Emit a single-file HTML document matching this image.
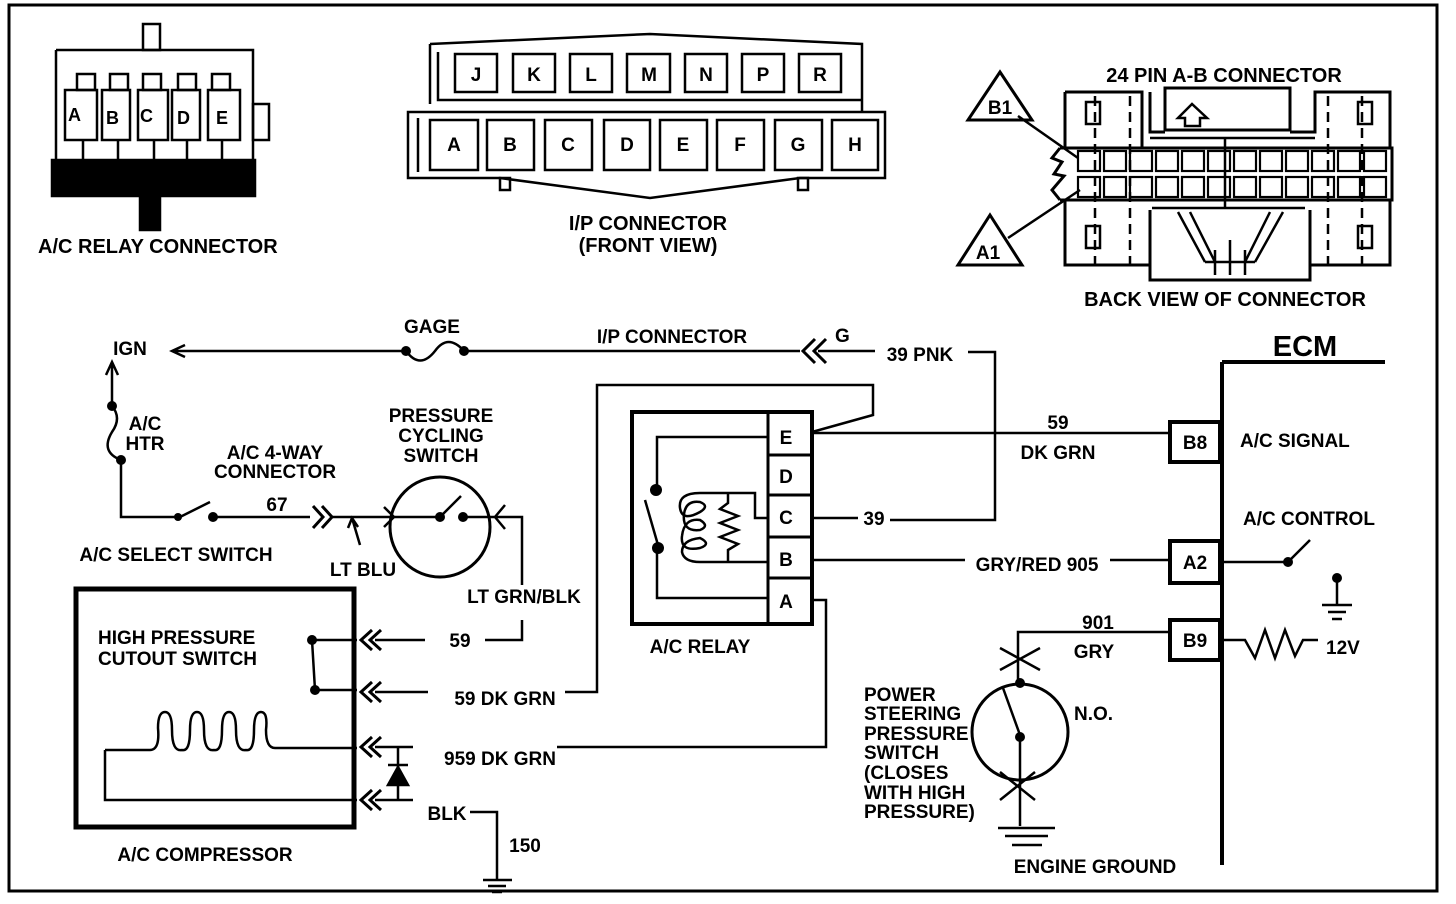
<!DOCTYPE html>
<html><head><meta charset="utf-8"><style>
html,body{margin:0;padding:0;background:#fff}
svg{display:block}
text{font-family:"Liberation Sans",sans-serif;font-weight:bold;fill:#000}
</style></head><body>
<svg width="1456" height="904" viewBox="0 0 1456 904" xmlns="http://www.w3.org/2000/svg">
<g fill="none" stroke="#000" stroke-width="2.5">
<rect x="9" y="5" width="1428" height="886" stroke-width="3"/>

<!-- A/C relay connector -->
<rect x="143" y="24" width="17" height="26"/>
<path d="M56 50 H253 V160 M56 50 V160"/>
<rect x="253" y="104" width="16" height="36"/>
<g stroke-width="2.5">
<rect x="77" y="74" width="18" height="16"/><rect x="110" y="74" width="18" height="16"/><rect x="143" y="74" width="18" height="16"/><rect x="178" y="74" width="18" height="16"/><rect x="212" y="74" width="18" height="16"/>
<rect x="65" y="90" width="32" height="50"/><rect x="102" y="90" width="28" height="50"/><rect x="138" y="90" width="30" height="50"/><rect x="172" y="90" width="28" height="50"/><rect x="208" y="90" width="32" height="50"/>
<path d="M83 140 V160 M118 140 V160 M154 140 V160 M187 140 V160 M222 140 V160"/>
</g>
<rect x="52" y="160" width="203" height="36" fill="#000"/>
<rect x="140" y="196" width="20" height="34" fill="#000"/>

<!-- I/P connector -->
<path d="M430 44 L650 34 L862 44 L862 112"/>
<path d="M430 44 V104 M438 52 V100 H862"/>
<path d="M408 112 H885 V178 L800 178 L650 198 L500 178 H408 Z"/>
<path d="M418 118 V172"/>
<rect x="500" y="178" width="10" height="12"/><rect x="798" y="178" width="10" height="12"/>
<g stroke-width="2.5">
<rect x="455" y="54" width="42" height="38"/><rect x="513" y="54" width="42" height="38"/><rect x="570" y="54" width="42" height="38"/><rect x="627" y="54" width="43" height="38"/><rect x="685" y="54" width="42" height="38"/><rect x="742" y="54" width="42" height="38"/><rect x="799" y="54" width="42" height="38"/>
<rect x="430" y="120" width="48" height="50"/><rect x="487" y="120" width="47" height="50"/><rect x="545" y="120" width="47" height="50"/><rect x="604" y="120" width="46" height="50"/><rect x="660" y="120" width="47" height="50"/><rect x="717" y="120" width="47" height="50"/><rect x="775" y="120" width="47" height="50"/><rect x="832" y="120" width="46" height="50"/>
</g>

<!-- 24 pin connector -->
<g stroke-width="3">
<path d="M1065 92 H1142 V148 M1065 92 V148"/>
<path d="M1165 88 H1290 V130 H1165 Z"/>
<path d="M1150 92 V132 H1165 M1290 132 H1315 V92 H1390 V148"/>
<path d="M1065 200 V265 H1150 V280 H1310 V265 H1390 V200"/>
<path d="M1150 210 V280 M1310 210 V265"/>
<path d="M1060 148 H1392 V200 H1060"/>
<path d="M1060 148 L1052 158 L1062 162 L1054 174 L1064 176 L1052 190 L1060 200"/>
</g>
<path d="M1150 138 H1315 M1152 208 H1305 M1225 138 V208"/>
<path d="M1095 96 V270 M1130 96 V270 M1328 96 V270 M1362 96 V270" stroke-dasharray="10 6"/>
<rect x="1086" y="102" width="14" height="22"/><rect x="1358" y="102" width="14" height="22"/>
<rect x="1086" y="226" width="14" height="22"/><rect x="1358" y="226" width="14" height="22"/>
<path d="M1178 118 L1192 104 L1207 118 H1200 V126 H1185 V118 Z"/>
<path d="M1178 212 L1205 262 M1190 212 L1215 262 M1270 212 L1245 262 M1283 212 L1255 262 M1205 262 H1255 M1215 250 V275 M1245 250 V275 M1230 240 V275"/>
<g stroke-width="2.2">
<rect x="1078" y="151" width="22" height="20"/><rect x="1104" y="151" width="22" height="20"/><rect x="1130" y="151" width="22" height="20"/><rect x="1156" y="151" width="22" height="20"/><rect x="1182" y="151" width="22" height="20"/><rect x="1208" y="151" width="22" height="20"/><rect x="1234" y="151" width="22" height="20"/><rect x="1260" y="151" width="22" height="20"/><rect x="1286" y="151" width="22" height="20"/><rect x="1312" y="151" width="22" height="20"/><rect x="1338" y="151" width="22" height="20"/><rect x="1364" y="151" width="22" height="20"/>
<rect x="1078" y="177" width="22" height="20"/><rect x="1104" y="177" width="22" height="20"/><rect x="1130" y="177" width="22" height="20"/><rect x="1156" y="177" width="22" height="20"/><rect x="1182" y="177" width="22" height="20"/><rect x="1208" y="177" width="22" height="20"/><rect x="1234" y="177" width="22" height="20"/><rect x="1260" y="177" width="22" height="20"/><rect x="1286" y="177" width="22" height="20"/><rect x="1312" y="177" width="22" height="20"/><rect x="1338" y="177" width="22" height="20"/><rect x="1364" y="177" width="22" height="20"/>
</g>
<path d="M1000 72 L1032 120 H968 Z" stroke-width="3"/>
<path d="M990 215 L1022 265 H958 Z" stroke-width="3"/>
<path d="M1018 116 L1078 158 M1008 238 L1080 190"/>

<!-- IGN / gage line -->
<path d="M405 351 H175 M185 345 L172 351 L185 357"/>
<path d="M406 351 Q420 370 435 351 Q448 333 464 351"/>
<path d="M464 351 H800"/>
<path d="M815 339 L803 351 L815 363 M826 339 L814 351 L826 363" stroke-width="3"/>
<path d="M818 351 H875 M968 352 H995 V520 H890 M812 518 H858"/>

<!-- IGN vertical -->
<path d="M112 406 V362 M106 375 L112 362 L118 375"/>
<path d="M112 406 Q122 418 112 432 Q100 452 121 460"/>
<path d="M121 460 V517 H178 M180 517 L210 502 M213 517 H310"/>
<path d="M313 506 L323 517 L313 528 M322 506 L332 517 L322 528" stroke-width="3"/>
<path d="M330 517 H392 M360 545 L352 518 M348 528 L352 518 L358 527"/>
<path d="M384 507 L394 517 L384 527"/>
<circle cx="440" cy="527" r="50" stroke-width="3"/>
<path d="M392 517 H440 M463 517 H522 V585 M443 514 L461 496"/>
<path d="M505 505 L495 517 L505 529"/>
<path d="M485 640 H522 V620"/>

<!-- compressor -->
<rect x="76" y="589" width="278" height="238" stroke-width="5"/>
<path d="M312 640 H357 M312 640 L315 690 H357"/>
<path d="M105 750 H150 Q160 750 158 728 Q158 712 165 712 Q172 712 172 730 Q172 752 182 750 Q190 752 190 730 Q190 712 197 712 Q204 712 204 730 Q204 752 214 750 Q222 752 222 730 Q222 712 229 712 Q236 712 236 730 Q236 752 246 750 Q254 752 254 730 Q254 712 261 712 Q268 712 266 730 Q266 748 275 748 H357"/>
<path d="M105 750 V800 H357"/>
<g stroke-width="3">
<path d="M372 630 L361 640 L372 650 M381 630 L370 640 L381 650"/>
<path d="M372 682 L361 692 L372 702 M381 682 L370 692 L381 702"/>
<path d="M372 737 L361 747 L372 757 M381 737 L370 747 L381 757"/>
<path d="M372 790 L361 800 L372 810 M381 790 L370 800 L381 810"/>
</g>
<path d="M375 640 H425 M375 692 H428 M565 692 H597 V385 H873 V415 L812 432"/>
<path d="M375 747 H413 M557 747 H826 V600 H812 M375 800 H413 M398 747 V800"/>
<path d="M388 765 H408 M388 785 L398 767 L408 785 Z" fill="#000"/>
<path d="M470 812 H497 V880"/>
<path d="M483 880 H512 M488 886 H506 M492 892 H502"/>

<!-- relay -->
<rect x="632" y="412" width="180" height="212" stroke-width="4"/>
<path d="M768 412 V624 M768 455 H812 M768 495 H812 M768 537 H812 M768 578 H812" stroke-width="3"/>
<path d="M768 437 H657 V490 M657 547 V598 H768 M645 500 L658 545"/>
<path d="M700 493 H755 V518 H768 M700 493 Q678 493 680 508 Q682 522 700 512 Q710 506 700 502 Q686 500 684 514 M684 514 Q682 532 700 530 Q710 526 700 520 Q684 518 682 536 M682 536 Q680 552 700 548 Q712 544 700 538 Q682 540 682 552 Q684 562 700 562 H768"/>
<path d="M728 493 V503 L720 509 L738 516 L720 523 L738 530 L720 537 L738 544 L728 550 V562"/>
<path d="M812 433 H1170 M812 560 H965 M1110 560 H1170"/>

<!-- ECM -->
<path d="M1222 362 V865 M1222 362 H1385" stroke-width="4"/>
<rect x="1170" y="422" width="50" height="40" stroke-width="4"/>
<rect x="1170" y="541" width="50" height="42" stroke-width="4"/>
<rect x="1170" y="620" width="50" height="40" stroke-width="4"/>
<path d="M1222 562 H1286 M1290 560 L1310 540"/>
<path d="M1337 580 V605 M1322 605 H1352 M1328 612 H1346 M1332 619 H1342"/>
<path d="M1222 640 H1245 L1255 658 L1265 630 L1275 658 L1285 630 L1295 656 L1303 640 H1318"/>
<path d="M1170 632 H1018 V680"/>
<circle cx="1020" cy="732" r="48" stroke-width="3"/>
<path d="M1000 670 L1040 648 M1000 648 L1040 670 M1000 800 L1035 772 M1000 772 L1035 800"/>
<path d="M1003 688 L1020 735 M1020 735 V826 M998 828 H1055 M1005 836 H1048 M1012 845 H1042"/>
</g>
<g fill="#000">
<circle cx="406" cy="351" r="5"/><circle cx="464" cy="351" r="5"/>
<circle cx="112" cy="406" r="5"/><circle cx="121" cy="460" r="5"/>
<circle cx="178" cy="517" r="4"/><circle cx="213" cy="517" r="5"/>
<circle cx="440" cy="517" r="5"/><circle cx="463" cy="517" r="5"/>
<circle cx="312" cy="640" r="5"/><circle cx="315" cy="690" r="5"/>
<circle cx="656" cy="490" r="6"/><circle cx="658" cy="548" r="6"/>
<circle cx="1288" cy="562" r="5"/><circle cx="1337" cy="578" r="5"/>
<circle cx="1020" cy="683" r="5"/><circle cx="1020" cy="737" r="5"/>
</g>

<g font-size="19">
<text x="68" y="121" font-size="18">A</text><text x="106" y="124" font-size="18">B</text><text x="140" y="122" font-size="18">C</text><text x="177" y="124" font-size="18">D</text><text x="216" y="124" font-size="18">E</text>
<text x="38" y="253" font-size="20">A/C RELAY CONNECTOR</text>
<g text-anchor="middle" font-size="19">
<text x="476" y="81">J</text><text x="534" y="81">K</text><text x="591" y="81">L</text><text x="649" y="81">M</text><text x="706" y="81">N</text><text x="763" y="81">P</text><text x="820" y="81">R</text>
<text x="454" y="151">A</text><text x="510" y="151">B</text><text x="568" y="151">C</text><text x="627" y="151">D</text><text x="683" y="151">E</text><text x="740" y="151">F</text><text x="798" y="151">G</text><text x="855" y="151">H</text>
<text x="648" y="230" font-size="20">I/P CONNECTOR</text>
<text x="648" y="252" font-size="20">(FRONT VIEW)</text>
<text x="1224" y="82" font-size="20">24 PIN A-B  CONNECTOR</text>
<text x="1225" y="306" font-size="20">BACK VIEW OF CONNECTOR</text>
<text x="1000" y="114">B1</text><text x="988" y="259">A1</text>
<text x="432" y="333">GAGE</text>
<text x="672" y="343">I/P CONNECTOR</text>
<text x="920" y="361">39 PNK</text>
<text x="874" y="525">39</text>
<text x="130" y="355">IGN</text>
<text x="441" y="422">PRESSURE</text><text x="441" y="442">CYCLING</text><text x="441" y="462">SWITCH</text>
<text x="275" y="459">A/C 4-WAY</text><text x="275" y="478">CONNECTOR</text>
<text x="277" y="511">67</text>
<text x="145" y="430">A/C</text><text x="145" y="450">HTR</text>
<text x="176" y="561">A/C SELECT SWITCH</text>
<text x="363" y="576">LT BLU</text>
<text x="524" y="603">LT GRN/BLK</text>
<text x="460" y="647">59</text>
<text x="505" y="705">59  DK GRN</text>
<text x="500" y="765">959 DK GRN</text>
<text x="447" y="820">BLK</text>
<text x="525" y="852">150</text>
<text x="205" y="861">A/C COMPRESSOR</text>
<text x="700" y="653">A/C RELAY</text>
<text x="786" y="444">E</text><text x="786" y="483">D</text><text x="786" y="524">C</text><text x="786" y="566">B</text><text x="786" y="608">A</text>
<text x="1058" y="429">59</text><text x="1058" y="459">DK GRN</text>
<text x="1037" y="571">GRY/RED 905</text>
<text x="1195" y="449">B8</text><text x="1195" y="569">A2</text><text x="1195" y="647">B9</text>
<text x="1098" y="629">901</text><text x="1094" y="658">GRY</text>
<text x="1305" y="356" font-size="29" font-weight="normal">ECM</text>
<text x="1095" y="873">ENGINE GROUND</text>
</g>
<text x="835" y="342">G</text>
<text x="1240" y="447">A/C SIGNAL</text>
<text x="1243" y="525">A/C CONTROL</text>
<text x="1326" y="654">12V</text>
<text x="1074" y="720">N.O.</text>
<text x="98" y="644" font-weight="normal">HIGH PRESSURE</text>
<text x="98" y="665" font-weight="normal">CUTOUT SWITCH</text>
<g font-size="19">
<text x="864" y="701">POWER</text><text x="864" y="720">STEERING</text><text x="864" y="740">PRESSURE</text><text x="864" y="759">SWITCH</text><text x="864" y="779">(CLOSES</text><text x="864" y="799">WITH  HIGH</text><text x="864" y="818">PRESSURE)</text>
</g>
</g>
</svg>
</body></html>
